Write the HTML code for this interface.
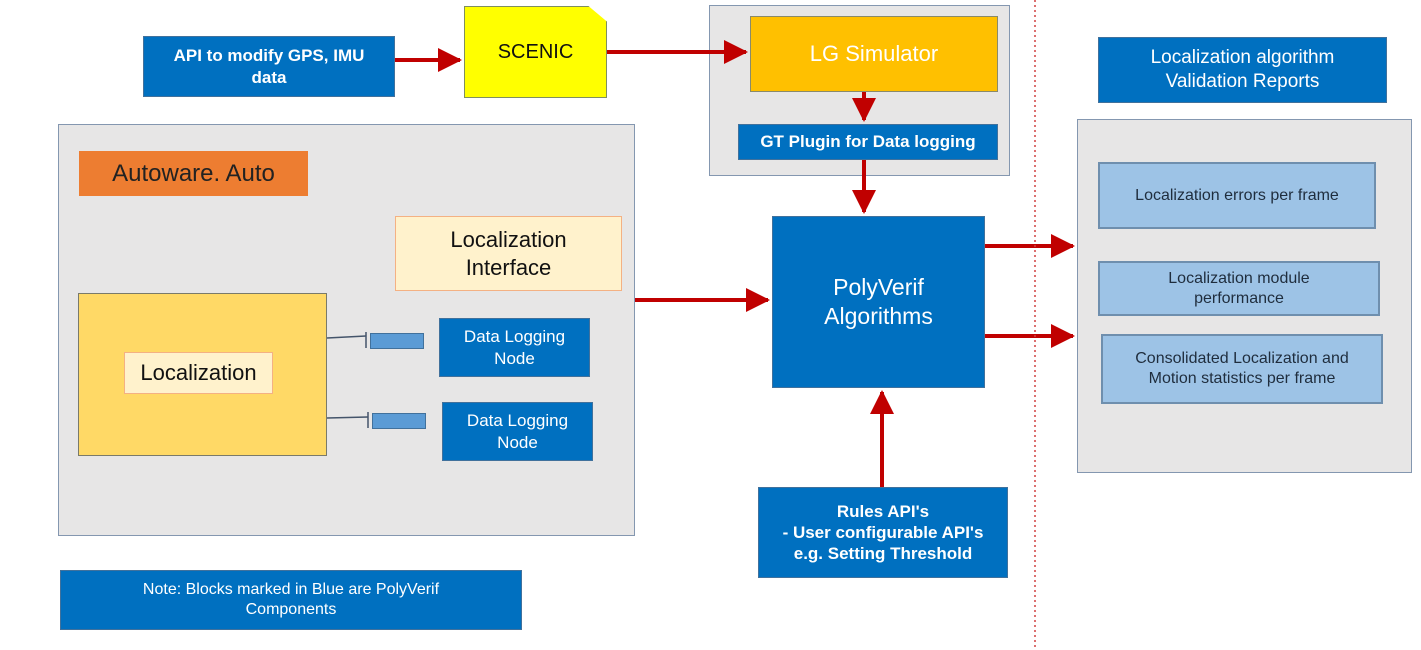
<!DOCTYPE html>
<html><head><meta charset="utf-8"><style>
body{margin:0;width:1421px;height:650px;background:#fff;position:relative;overflow:hidden;font-family:"Liberation Sans",sans-serif}
.b{position:absolute;box-sizing:border-box;display:flex;align-items:center;justify-content:center;text-align:center;line-height:1.25}
.blue{background:#0070c0;color:#fff;border:1px solid #41719c;font-weight:bold}
.grey{background:#e7e6e6;border:1.5px solid #8497b0}
.lb{background:#9dc3e6;border:2px solid #6f8fae;color:#1f2d3d;font-size:16px}
</style></head><body>
<div class="b grey" style="left:709px;top:5px;width:301px;height:171px"></div>
<div class="b grey" style="left:58px;top:124px;width:577px;height:412px"></div>
<div class="b grey" style="left:1077px;top:119px;width:335px;height:354px"></div>

<div class="b blue" style="left:143px;top:36px;width:252px;height:61px;font-size:17px">API to modify GPS, IMU<br>data</div>
<div class="b" style="left:464px;top:6px;width:143px;height:92px;background:#ffff00;border:1.5px solid #7f8f5f;clip-path:polygon(0 0,87% 0,100% 17%,100% 100%,0 100%);font-size:20px;color:#111">SCENIC</div>
<div class="b" style="left:750px;top:16px;width:248px;height:76px;background:#ffc000;border:1.5px solid #8a8a6a;color:#fff;font-size:22px">LG Simulator</div>
<div class="b blue" style="left:738px;top:124px;width:260px;height:36px;font-size:17px">GT Plugin for Data logging</div>
<div class="b blue" style="left:1098px;top:37px;width:289px;height:66px;font-size:19px;font-weight:normal">Localization algorithm<br>Validation Reports</div>

<div class="b lb" style="left:1098px;top:162px;width:278px;height:67px">Localization errors per frame</div>
<div class="b lb" style="left:1098px;top:261px;width:282px;height:55px">Localization module<br>performance</div>
<div class="b lb" style="left:1101px;top:334px;width:282px;height:70px">Consolidated Localization and<br>Motion statistics per frame</div>

<div class="b" style="left:79px;top:151px;width:229px;height:45px;background:#ed7d31;color:#222;font-size:24px">Autoware. Auto</div>
<div class="b" style="left:395px;top:216px;width:227px;height:75px;background:#fff2cc;border:1.5px solid #f4b183;font-size:22px;color:#111">Localization<br>Interface</div>
<div class="b" style="left:78px;top:293px;width:249px;height:163px;background:#ffd966;border:1.5px solid #7a7a6a"></div>
<div class="b" style="left:124px;top:352px;width:149px;height:42px;background:#fff2cc;border:1px solid #f4b183;font-size:22px;color:#111">Localization</div>
<div class="b" style="left:370px;top:333px;width:54px;height:16px;background:#5b9bd5;border:1px solid #41719c"></div>
<div class="b" style="left:372px;top:413px;width:54px;height:16px;background:#5b9bd5;border:1px solid #41719c"></div>
<div class="b blue" style="left:439px;top:318px;width:151px;height:59px;font-size:17px;font-weight:normal">Data Logging<br>Node</div>
<div class="b blue" style="left:442px;top:402px;width:151px;height:59px;font-size:17px;font-weight:normal">Data Logging<br>Node</div>

<div class="b blue" style="left:772px;top:216px;width:213px;height:172px;font-size:23px;font-weight:normal">PolyVerif<br>Algorithms</div>
<div class="b blue" style="left:758px;top:487px;width:250px;height:91px;font-size:17px">Rules API's<br>- User configurable API's<br>e.g. Setting Threshold</div>
<div class="b blue" style="left:60px;top:570px;width:462px;height:60px;font-size:16px;font-weight:normal">Note: Blocks marked in Blue are PolyVerif<br>Components</div>

<svg width="1421" height="650" style="position:absolute;left:0;top:0">
<defs><marker id="a" markerWidth="6" markerHeight="6" refX="5.5" refY="3" orient="auto" markerUnits="strokeWidth"><path d="M0,0 L6,3 L0,6z" fill="#c00000"/></marker></defs>
<g stroke="#c00000" stroke-width="4" fill="none">
<line x1="395" y1="60" x2="460" y2="60" marker-end="url(#a)"/>
<line x1="607" y1="52" x2="746" y2="52" marker-end="url(#a)"/>
<line x1="864" y1="92" x2="864" y2="120" marker-end="url(#a)"/>
<line x1="864" y1="160" x2="864" y2="212" marker-end="url(#a)"/>
<line x1="635" y1="300" x2="768" y2="300" marker-end="url(#a)"/>
<line x1="985" y1="246" x2="1073" y2="246" marker-end="url(#a)"/>
<line x1="985" y1="336" x2="1073" y2="336" marker-end="url(#a)"/>
<line x1="882" y1="487" x2="882" y2="392" marker-end="url(#a)"/>
</g>
<line x1="1035" y1="0" x2="1035" y2="650" stroke="#d04040" stroke-width="1.5" stroke-dasharray="2,3"/>
<g stroke="#44546a" stroke-width="1.5">
<line x1="327" y1="338" x2="366" y2="336"/><line x1="366" y1="332" x2="366" y2="348"/>
<line x1="327" y1="418" x2="368" y2="417"/><line x1="368" y1="412" x2="368" y2="428"/>
</g>
</svg>
</body></html>
